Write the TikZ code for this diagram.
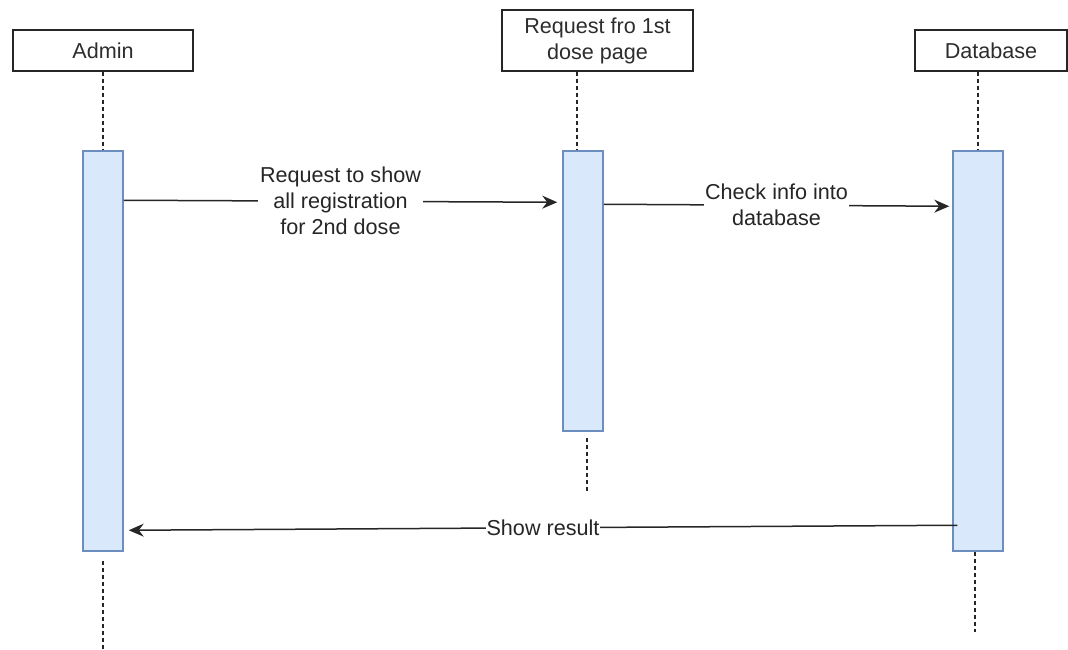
\documentclass[tikz,border=0pt]{standalone}
\usepackage{fontspec}
\setmainfont{Liberation Sans}
\usetikzlibrary{positioning, arrows.meta, calc}
\definecolor{barblue}{RGB}{218, 232, 252}
\definecolor{barline}{RGB}{108, 142, 191}
\definecolor{txtgray}{RGB}{45, 45, 45}

\begin{document}
\begin{tikzpicture}[
                x=1pt, y=-1pt,
                font=\fontsize{21.6}{26}\selectfont, text=txtgray,
                % Style for the participant boxes
                actor/.style={
                    draw=black!85, line width=1.5pt,
                    fill=white, align=center, inner sep=0pt
                },
                % Style for the activation bars
                actbar/.style={
                    draw=barline, line width=1.5pt,
                    fill=barblue, inner sep=0pt
                },
                % Style for the lifelines
                lifeline/.style={
                    dash pattern=on 4pt off 3pt, line width=1.5pt, color=black!85
                },
                % Style for the messages
                msg/.style={
                    -{Stealth[length=15pt, width=13pt, inset=5pt]}, line width=1.5pt, color=black!85
                },
                % Style for the message labels
                msglabel/.style={
                    fill=white, align=center, inner sep=2pt
                }
            ]
                \useasboundingbox (0,0) rectangle (1068,650);

                % 1. Participants
                \node[actor, minimum width=180pt, minimum height=41pt] (admin) at (103,50.5) {Admin};
                \node[actor, minimum width=191pt, minimum height=61pt] (page) at (597.5,40.5) {Request fro 1st\\dose page};
                \node[actor, minimum width=152pt, minimum height=41pt] (db) at (991,50.5) {Database};

                % 2. Activation bars
                \node[actbar, minimum width=40pt, minimum height=400pt] (abar) at (103,351) {};
                \node[actbar, minimum width=40pt, minimum height=280pt] (pbar) at (583,291) {};
                \node[actbar, minimum width=50pt, minimum height=400pt] (dbar) at (978,351) {};

                % 3. Lifelines
                \coordinate (aend) at (103,650);
                \coordinate (pend) at (587,492);
                \coordinate (dend) at (975,632);
                \draw[lifeline] (admin) -- (abar);
                \draw[lifeline] ([xshift=-6pt]pbar.north |- page.south) -- ([xshift=-6pt]pbar.north);
                \draw[lifeline] (dbar.north |- db.south) -- (dbar.north);
                \draw[lifeline] ([yshift=-9pt]abar.south) -- (aend);
                \draw[lifeline] ([xshift=4pt, yshift=-6pt]pbar.south) -- (pend);
                \draw[lifeline] ([xshift=-3pt]dbar.south) -- (dend);

                % 4. Messages
                \draw[msg] ([yshift=-50pt]abar.north east) -- node[msglabel] {Request to show\\all registration\\for 2nd dose} ([xshift=-5pt, yshift=-52pt]pbar.north west);
                \draw[msg] ([yshift=-54pt]pbar.north east) -- node[msglabel, inner sep=1pt] {Check info into\\database} ([xshift=-3pt, yshift=-56pt]dbar.north west);
                \draw[msg] ([xshift=5pt, yshift=-375pt]dbar.north west) -- node[msglabel, inner sep=0.5pt] {Show result} ([xshift=5pt, yshift=-380pt]abar.north east);

            \end{tikzpicture}
\end{document}
